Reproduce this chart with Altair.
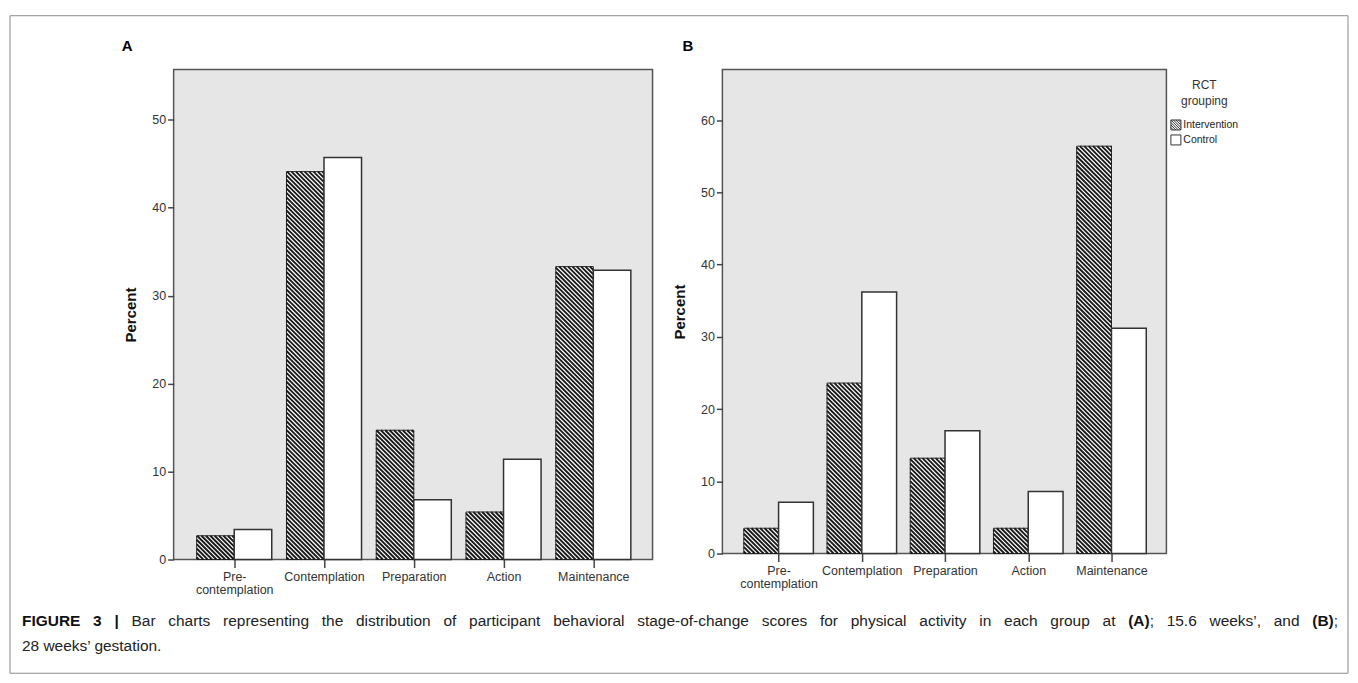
import json
import altair as alt
import pandas as pd

FONT = "Liberation Sans"

# ---------------- data ----------------
stages = ["Pre-contemplation", "Contemplation", "Preparation", "Action", "Maintenance"]
stage_tick_labels = [["Pre-", "contemplation"], "Contemplation", "Preparation", "Action", "Maintenance"]
groups = ["Intervention", "Control"]

a_intervention = [2.7, 44.1, 14.7, 5.4, 33.3]
a_control = [3.4, 45.7, 6.8, 11.4, 32.9]
b_intervention = [3.5, 23.6, 13.2, 3.5, 56.4]
b_control = [7.1, 36.2, 17.0, 8.6, 31.2]

a_yticks = [0, 10, 20, 30, 40, 50]
b_yticks = [0, 10, 20, 30, 40, 50, 60]
a_ymax = 55.7
b_ymax = 67.0

y_title = "Percent"
legend_title = ["RCT", "grouping"]
panel_labels = ["A", "B"]
# caption line 1 as (text, bold) pieces grouped into words
caption_words = [
    [("FIGURE", True)], [("3", True)], [("|", True)],
    [("Bar", False)], [("charts", False)], [("representing", False)], [("the", False)],
    [("distribution", False)], [("of", False)], [("participant", False)],
    [("behavioral", False)], [("stage-of-change", False)], [("scores", False)],
    [("for", False)], [("physical", False)], [("activity", False)], [("in", False)],
    [("each", False)], [("group", False)], [("at", False)], [("(A)", True), (";", False)],
    [("15.6", False)], [("weeks\u2019,", False)], [("and", False)], [("(B)", True), (";", False)],
]
caption_line2 = "28 weeks\u2019 gestation."

# ---------------- layout constants ----------------
X_DOMAIN = [-0.675, 4.66]
BAR_W = 0.418
HATCH_STEP = 4.4  # px between hatch lines (horizontal)
A_W, A_H, B_W, B_H = 480, 491, 445, 485
CAP_SIZE = 15.5

# hatched legend symbol (square outline + "\" diagonals), unit coordinates
HATCH_SYMBOL = ("M-1,-1H1V1H-1Z M-1,-1L1,1 M-0.5,-1L1,0.5 M-1,-0.5L0.5,1 M0,-1L1,0 "
                "M-1,0L0,1 M0.5,-1L1,-0.5 M-1,0.5L-0.5,1")

# Arial / Liberation Sans advance widths (1/1000 em)
_W = {" ": 278, "(": 333, ")": 333, ",": 278, "-": 333, ".": 278, ";": 278, "|": 260,
      "\u2019": 222, "'": 191}
_W.update({d: 556 for d in "0123456789"})
_W.update(dict(zip("abcdefghijklmnopqrstuvwxyz",
                   [556, 556, 500, 556, 556, 278, 556, 556, 222, 222, 500, 222, 833, 556, 556,
                    556, 556, 333, 500, 278, 556, 500, 722, 500, 500, 500])))
_W.update(dict(zip("ABCDEFGHIJKLMNOPQRSTUVWXYZ",
                   [667, 667, 722, 722, 667, 611, 778, 722, 278, 500, 667, 556, 833, 722, 778,
                    667, 778, 722, 667, 611, 722, 667, 944, 667, 667, 611])))
_WB = dict(_W)
_WB.update({"|": 280, "A": 722, "B": 722, "R": 722, "U": 722, "F": 611, "G": 778, "E": 667,
            "I": 278})


def text_width(s, bold, size):
    tab = _WB if bold else _W
    return sum(tab.get(ch, 556) for ch in s) * size / 1000.0


def bars_df(ivals, cvals):
    rows = []
    for i, (vi, vc) in enumerate(zip(ivals, cvals)):
        rows.append(dict(stage=stages[i], group=groups[0], x0=i - BAR_W, x1=i, v=vi, base=0))
        rows.append(dict(stage=stages[i], group=groups[1], x0=i, x1=i + BAR_W, v=vc, base=0))
    return pd.DataFrame(rows)


def hatch_df(df, width, height, ymax):
    kx = width / (X_DOMAIN[1] - X_DOMAIN[0])
    ky = height / ymax
    rows = []
    for r in df[df.group == groups[0]].itertuples():
        X0 = (r.x0 - X_DOMAIN[0]) * kx
        X1 = (r.x1 - X_DOMAIN[0]) * kx
        H = r.v * ky
        c = X0 + HATCH_STEP / 2
        while c < X1 + H:
            xs = max(X0, c - H)
            xe = min(X1, c)
            if xe > xs:
                rows.append(dict(hx=xs / kx + X_DOMAIN[0], hy=(c - xs) / ky,
                                 hx2=xe / kx + X_DOMAIN[0], hy2=(c - xe) / ky))
            c += HATCH_STEP
    return pd.DataFrame(rows)


LABEL_EXPR = json.dumps(stage_tick_labels) + "[datum.value]"
XSCALE = alt.Scale(domain=X_DOMAIN, nice=False, zero=False)
XAXIS = alt.Axis(values=[0, 1, 2, 3, 4], labelExpr=LABEL_EXPR, title=None, tickSize=8,
                 tickWidth=1.5, labelFontSize=12.5, labelPadding=3, labelLineHeight=13,
                 labelAngle=0)
one = alt.Data(values=[{}])


def panel_letter(label, dx):
    return alt.Chart(one).mark_text(
        text=label, align="left", baseline="alphabetic", fontSize=15, fontWeight="bold",
        font=FONT, color="black"
    ).encode(x=alt.value(dx), y=alt.value(-19))


def legend_layer(yscale, yaxis):
    # legend carrier points hidden underneath a white control bar (drawn first)
    ldf = pd.DataFrame({"group": groups, "lx": [1.2, 1.2], "ly": [4.0, 4.0]})
    return alt.Chart(ldf).mark_point(
        filled=False, stroke="#333", strokeWidth=1, size=100, opacity=1
    ).encode(
        x=alt.X("lx:Q", scale=XSCALE, axis=XAXIS),
        y=alt.Y("ly:Q", scale=yscale, axis=yaxis),
        shape=alt.Shape("group:N", sort=groups,
                        scale=alt.Scale(domain=groups, range=[HATCH_SYMBOL, "square"]),
                        legend=alt.Legend(
                            title=legend_title, orient="none", legendX=999, legendY=10,
                            titleAnchor="middle", titleAlign="center", titleFontSize=12,
                            titleFontWeight="normal", titleLineHeight=16, titlePadding=12,
                            titleColor="#333", labelFontSize=10.5, labelColor="#222",
                            labelOffset=2, symbolSize=100,
                            symbolStrokeColor="#333", symbolStrokeWidth=1, rowPadding=0,
                            padding=0,
                        )),
    )


def panel(label, ivals, cvals, ymax, yticks, width, height, title_dx, extra=None,
          with_legend=False):
    df = bars_df(ivals, cvals)
    hd = hatch_df(df, width, height, ymax)
    yscale = alt.Scale(domain=[0, ymax], nice=False, zero=True)
    yaxis = alt.Axis(values=yticks, title=y_title, titleFontSize=15, titleFontWeight="bold",
                     titlePadding=13, tickSize=6, tickWidth=1.5, labelFontSize=12.5, labelPadding=2)

    base = alt.Chart(df)
    inter = base.transform_filter(alt.datum.group == groups[0]).mark_rect(
        fill="white", stroke="#222", strokeWidth=1
    ).encode(
        x=alt.X("x0:Q", scale=XSCALE, axis=XAXIS), x2="x1:Q",
        y=alt.Y("v:Q", scale=yscale, axis=yaxis), y2="base:Q",
    )
    hatch = alt.Chart(hd).mark_rule(stroke="#1a1a1a", strokeWidth=1.9).encode(
        x=alt.X("hx:Q", scale=XSCALE, axis=XAXIS), x2="hx2:Q",
        y=alt.Y("hy:Q", scale=yscale, axis=yaxis), y2="hy2:Q",
    )
    ctrl = base.transform_filter(alt.datum.group == groups[1]).mark_rect(
        fill="white", stroke="#333", strokeWidth=1.5
    ).encode(
        x=alt.X("x0:Q", scale=XSCALE, axis=XAXIS), x2="x1:Q",
        y=alt.Y("v:Q", scale=yscale, axis=yaxis), y2="base:Q",
    )
    layers = [legend_layer(yscale, yaxis)] if with_legend else []
    layers += [inter, hatch, ctrl, panel_letter(label, title_dx)] + (extra or [])
    return alt.layer(*layers).properties(
        width=width, height=height,
        view=alt.ViewBackground(fill="#e6e6e6", stroke="#555", strokeWidth=1.5),
    )


# ---- caption (justified first line) ; pixel offsets relative to panel A's plot area ----
A_LEFT_PAGE = 172
kxA = A_W / (X_DOMAIN[1] - X_DOMAIN[0])
line_start, line_end = 20 - A_LEFT_PAGE, 1339 - A_LEFT_PAGE
word_w = [sum(text_width(t, b, CAP_SIZE) for t, b in w) for w in caption_words]
gap = (line_end - line_start - sum(word_w)) / (len(caption_words) - 1)
pieces = []
x = line_start
for w, ww in zip(caption_words, word_w):
    px = x
    for t, b in w:
        pieces.append(dict(t=t, bold=b, d=X_DOMAIN[0] + px / kxA))
        px += text_width(t, b, CAP_SIZE)
    x += ww + gap
pieces = pd.DataFrame(pieces)


def cap_layer(df, bold):
    return alt.Chart(df).mark_text(
        align="left", baseline="middle", fontSize=CAP_SIZE, font=FONT,
        fontWeight="bold" if bold else "normal", color="#111" if bold else "#222"
    ).encode(x=alt.X("d:Q", scale=XSCALE, axis=XAXIS), y=alt.value(553), text="t:N")


cap_bold = cap_layer(pieces[pieces.bold], True)
cap_norm = cap_layer(pieces[~pieces.bold], False)
cap_2 = alt.Chart(one).mark_text(
    text=caption_line2, align="left", baseline="middle", fontSize=CAP_SIZE, font=FONT,
    color="#222"
).encode(x=alt.value(line_start), y=alt.value(578))

frame = alt.Chart(one).mark_rect(fillOpacity=0, stroke="#8a8a8a", strokeWidth=1).encode(
    x=alt.value(-164), x2=alt.value(1177), y=alt.value(-54), y2=alt.value(605)
)

pa = panel(panel_labels[0], a_intervention, a_control, a_ymax, a_yticks, A_W, A_H, -52,
           extra=[frame, cap_bold, cap_norm, cap_2])
pb = panel(panel_labels[1], b_intervention, b_control, b_ymax, b_yticks, B_W, B_H, -40,
           with_legend=True)

chart = alt.hconcat(pa, pb, spacing=70, bounds="flush").properties(
    padding={"left": 0, "top": 5, "right": 0, "bottom": 0},
    background="white",
).configure(font=FONT).configure_axis(
    labelFont=FONT, titleFont=FONT, labelColor="#333", titleColor="#111", tickColor="#444",
    grid=False, domain=False,
).configure_legend(labelFont=FONT, titleFont=FONT)

chart.save("out.html", embed_options={"renderer": "svg", "actions": False})
